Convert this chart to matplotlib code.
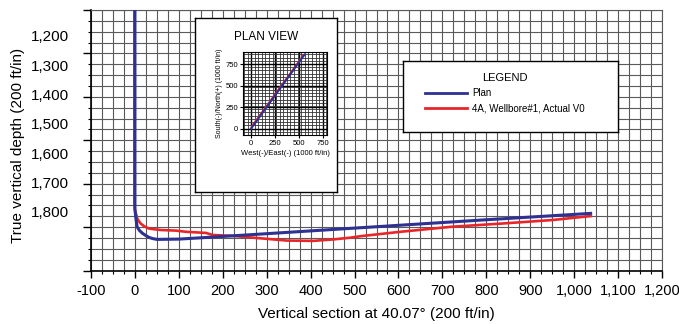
import matplotlib.pyplot as plt
import numpy as np
from matplotlib.ticker import FuncFormatter

# vertical section data (ft)
plan_vs = [0, 0, 2, 5, 10, 17, 25, 32, 40, 50, 100, 200, 400, 600, 800, 1041]
plan_tvd = [1112, 1790, 1820, 1851, 1863, 1873, 1881, 1887, 1891, 1894, 1893, 1884, 1865, 1846, 1827, 1805]

actual_vs = [-1, -1, 0, 2, 6, 13, 22, 32, 47, 60, 93, 116, 162, 177, 223, 284,
             346, 406, 452, 491, 514, 605, 720, 835, 950, 1041]
actual_tvd = [1112, 1775, 1795, 1805, 1825, 1840, 1850, 1857, 1860, 1862, 1864, 1868, 1872, 1879, 1882, 1890,
              1898, 1899, 1894, 1888, 1883, 1868, 1851, 1840, 1828, 1814]

# plan view (east, north)
plan_east = [0, 560]
plan_north = [0, 860]
actual_east = [0, 15, 545]
actual_north = [0, 40, 850]

x_ticks = list(range(-100, 1201, 100))
y_label_ticks = [1200, 1300, 1400, 1500, 1600, 1700, 1800]
plan_ticks = [0, 250, 500, 750]

BLUE = "#2e3192"
RED = "#e8262a"
GRID = "#5a5a5a"

plt.rcParams["font.family"] = ["Liberation Sans", "DejaVu Sans"]
narrow = ["Liberation Sans Narrow", "Liberation Sans", "DejaVu Sans"]

fig = plt.figure(figsize=(6.79, 3.24), dpi=100)
ax = fig.add_axes([91 / 679, 1 - 270.5 / 324, 571 / 679, 260.5 / 324])

y_bottom, y_top = 2000, 1112
ax.set_xlim(-100, 1200)
ax.set_ylim(y_bottom, y_top)

ax.plot(actual_vs, actual_tvd, color=RED, lw=1.9, solid_capstyle="butt", zorder=3)
ax.plot(plan_vs, plan_tvd, color=BLUE, lw=2.2, solid_capstyle="butt", zorder=4)

# graph-paper grid
y_grid = np.linspace(y_bottom, y_top, 25)
ax.set_xticks(x_ticks)
ax.set_xticks(np.arange(-100, 1201, 25), minor=True)
ax.set_yticks(y_grid[::4])
ax.set_yticks(y_grid, minor=True)
ax.set_yticklabels([])
ax.xaxis.set_major_formatter(FuncFormatter(lambda v, p: f"{int(v):,}"))
ax.grid(which="both", color=GRID, lw=0.8)
ax.set_axisbelow(True)
ax.tick_params(axis="x", which="major", length=5, width=1, pad=5, labelsize=10.5, color="black")
ax.tick_params(axis="x", which="minor", length=2.5, width=0.8, color="black")
ax.tick_params(axis="y", which="major", length=6, width=1, color="black")
ax.tick_params(axis="y", which="minor", length=2.5, width=0.8, color="black")
for s in ["top", "right"]:
    ax.spines[s].set_color(GRID)
    ax.spines[s].set_linewidth(0.8)
for s in ["left", "bottom"]:
    ax.spines[s].set_linewidth(1.2)

sec = ax.secondary_yaxis("left")
sec.set_yticks(y_label_ticks)
sec.yaxis.set_major_formatter(FuncFormatter(lambda v, p: f"{int(v):,}"))
sec.tick_params(length=0, pad=16, labelsize=11)
sec.spines["left"].set_visible(False)

ax.set_xlabel("Vertical section at 40.07° (200 ft/in)", fontsize=11, labelpad=6)
fig.text(18 / 679, 1 - 145 / 324, "True vertical depth (200 ft/in)", rotation=90,
         ha="center", va="center", fontsize=11)

# plan view box
box = fig.add_axes([195 / 679, 1 - 192 / 324, 142 / 679, 174 / 324])
box.set_xticks([])
box.set_yticks([])
box.set_facecolor("white")
for s in box.spines.values():
    s.set_linewidth(1.0)
box.text(0.5, 0.89, "PLAN VIEW", ha="center", va="center", fontsize=8.5,
         transform=box.transAxes)

pv = fig.add_axes([243 / 679, 1 - 135 / 324, 84 / 679, 83 / 324])
pv.set_xlim(-85, 795)
pv.set_ylim(-70, 890)
pv.plot(actual_east, actual_north, color=RED, lw=1.2)
pv.plot(plan_east, plan_north, color=BLUE, lw=1.5)
pv.set_xticks(plan_ticks)
pv.set_yticks(plan_ticks)
pv.set_xticks(np.arange(-75, 800, 37.5), minor=True)
pv.set_yticks(np.arange(-75, 890, 37.5), minor=True)
pv.grid(which="major", color="black", lw=1.0)
pv.grid(which="minor", color="#333333", lw=0.6)
pv.set_axisbelow(True)
pv.tick_params(which="both", labelsize=5.5, length=2, pad=1.5)
pv.tick_params(which="minor", length=0)
for lab in pv.get_xticklabels() + pv.get_yticklabels():
    lab.set_family(narrow)
pv.set_xlabel("West(-)/East(-) (1000 ft/in)", fontsize=5.5, labelpad=2, family=narrow)
pv.set_ylabel("South(-)/North(+) (1000 ft/in)", fontsize=5, labelpad=2, family=narrow)

# legend box
lb = fig.add_axes([403 / 679, 1 - 132 / 324, 215 / 679, 71 / 324])
lb.set_xticks([])
lb.set_yticks([])
lb.set_facecolor("white")
for s in lb.spines.values():
    s.set_linewidth(1.0)
h_plan, = lb.plot([], [], color=BLUE, lw=2.0)
h_act, = lb.plot([], [], color=RED, lw=2.0)
leg = lb.legend([h_plan, h_act], ["Plan", "4A, Wellbore#1, Actual V0"],
                title="LEGEND", loc="upper left", bbox_to_anchor=(0.06, 0.95),
                frameon=False, handlelength=4.4, handletextpad=0.5,
                labelspacing=0.5, prop={"family": narrow, "size": 7},
                title_fontproperties={"family": narrow, "size": 8})
leg._legend_box.align = "center"

fig.savefig("out.png", dpi=100)
